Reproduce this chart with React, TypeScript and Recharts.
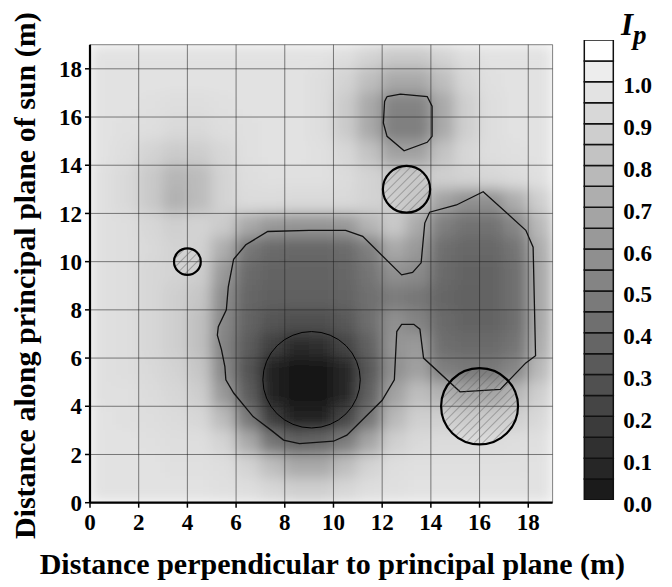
import React from 'react';
import { ScatterChart, Scatter, XAxis, YAxis, CartesianGrid, BarChart, Bar } from 'recharts';

// axis ticks
const xTicks = [0, 2, 4, 6, 8, 10, 12, 14, 16, 18];
const yTicks = [0, 2, 4, 6, 8, 10, 12, 14, 16, 18];

// centres of the 1 m cells of the Ip field
const cellX = [0.5, 1.5, 2.5, 3.5, 4.5, 5.5, 6.5, 7.5, 8.5, 9.5, 10.5, 11.5, 12.5, 13.5, 14.5, 15.5, 16.5, 17.5, 18.5];
const cellY = [18.5, 17.5, 16.5, 15.5, 14.5, 13.5, 12.5, 11.5, 10.5, 9.5, 8.5, 7.5, 6.5, 5.5, 4.5, 3.5, 2.5, 1.5, 0.5];

// Ip, one row per cellY, one column per cellX
const ipRows = [
  [0.97, 0.97, 0.97, 0.97, 0.97, 0.97, 0.97, 0.97, 0.97, 0.97, 0.95, 0.9, 0.85, 0.85, 0.9, 0.95, 0.97, 0.97, 0.97],
  [0.97, 0.97, 0.97, 0.97, 0.97, 0.97, 0.97, 0.97, 0.97, 0.95, 0.9, 0.8, 0.7, 0.7, 0.8, 0.92, 0.96, 0.97, 0.97],
  [0.97, 0.97, 0.96, 0.95, 0.95, 0.96, 0.97, 0.97, 0.97, 0.95, 0.86, 0.7, 0.52, 0.52, 0.7, 0.88, 0.95, 0.97, 0.97],
  [0.97, 0.96, 0.95, 0.93, 0.93, 0.95, 0.96, 0.97, 0.97, 0.95, 0.86, 0.7, 0.5, 0.5, 0.7, 0.88, 0.95, 0.97, 0.97],
  [0.97, 0.95, 0.9, 0.86, 0.87, 0.92, 0.96, 0.97, 0.97, 0.96, 0.92, 0.82, 0.66, 0.66, 0.82, 0.92, 0.95, 0.96, 0.97],
  [0.96, 0.93, 0.85, 0.76, 0.79, 0.9, 0.95, 0.96, 0.96, 0.96, 0.94, 0.9, 0.85, 0.85, 0.88, 0.9, 0.92, 0.94, 0.96],
  [0.96, 0.93, 0.85, 0.74, 0.79, 0.9, 0.94, 0.94, 0.93, 0.93, 0.93, 0.9, 0.87, 0.84, 0.66, 0.58, 0.58, 0.72, 0.88],
  [0.96, 0.95, 0.92, 0.88, 0.9, 0.86, 0.7, 0.62, 0.6, 0.6, 0.62, 0.75, 0.85, 0.7, 0.5, 0.44, 0.44, 0.54, 0.78],
  [0.96, 0.95, 0.93, 0.9, 0.89, 0.72, 0.46, 0.4, 0.39, 0.39, 0.41, 0.5, 0.7, 0.62, 0.42, 0.39, 0.39, 0.45, 0.72],
  [0.96, 0.95, 0.92, 0.9, 0.87, 0.62, 0.4, 0.37, 0.37, 0.37, 0.38, 0.45, 0.58, 0.55, 0.4, 0.37, 0.37, 0.43, 0.7],
  [0.96, 0.95, 0.92, 0.88, 0.84, 0.56, 0.38, 0.35, 0.35, 0.35, 0.37, 0.43, 0.48, 0.46, 0.38, 0.36, 0.37, 0.43, 0.7],
  [0.96, 0.95, 0.92, 0.88, 0.81, 0.54, 0.37, 0.3, 0.27, 0.27, 0.32, 0.42, 0.58, 0.52, 0.4, 0.37, 0.37, 0.42, 0.7],
  [0.96, 0.95, 0.92, 0.88, 0.81, 0.52, 0.33, 0.2, 0.1, 0.12, 0.22, 0.36, 0.6, 0.63, 0.42, 0.4, 0.4, 0.45, 0.72],
  [0.96, 0.95, 0.93, 0.9, 0.84, 0.54, 0.3, 0.05, 0.0, 0.0, 0.08, 0.32, 0.58, 0.66, 0.5, 0.47, 0.47, 0.54, 0.78],
  [0.96, 0.96, 0.94, 0.92, 0.87, 0.62, 0.34, 0.05, 0.0, 0.0, 0.08, 0.35, 0.66, 0.8, 0.74, 0.68, 0.68, 0.76, 0.88],
  [0.97, 0.96, 0.95, 0.94, 0.92, 0.78, 0.46, 0.18, 0.05, 0.06, 0.22, 0.45, 0.77, 0.88, 0.88, 0.86, 0.86, 0.88, 0.93],
  [0.97, 0.97, 0.96, 0.95, 0.95, 0.9, 0.7, 0.45, 0.36, 0.38, 0.48, 0.68, 0.88, 0.93, 0.94, 0.94, 0.94, 0.95, 0.96],
  [0.97, 0.97, 0.97, 0.96, 0.96, 0.95, 0.9, 0.8, 0.7, 0.7, 0.8, 0.9, 0.95, 0.96, 0.96, 0.96, 0.96, 0.96, 0.97],
  [0.97, 0.97, 0.97, 0.97, 0.97, 0.96, 0.95, 0.92, 0.88, 0.88, 0.92, 0.95, 0.96, 0.97, 0.97, 0.97, 0.97, 0.97, 0.97],
];

// contour lines (closed)
const contourMain = [
  { x: 5.9, y: 10.1 }, { x: 6.4, y: 10.7 }, { x: 7.3, y: 11.25 }, { x: 9.0, y: 11.3 }, { x: 10.5, y: 11.3 },
  { x: 11.2, y: 11.05 }, { x: 12.8, y: 9.45 }, { x: 13.25, y: 9.55 }, { x: 13.6, y: 9.95 }, { x: 13.75, y: 11.6 },
  { x: 13.95, y: 12.05 }, { x: 15.05, y: 12.35 }, { x: 16.15, y: 12.9 }, { x: 17.9, y: 11.3 }, { x: 18.2, y: 10.6 },
  { x: 18.3, y: 6.1 }, { x: 17.9, y: 5.8 }, { x: 16.85, y: 4.7 }, { x: 15.2, y: 4.6 }, { x: 13.7, y: 6.0 },
  { x: 13.55, y: 7.2 }, { x: 13.3, y: 7.4 }, { x: 12.8, y: 7.4 }, { x: 12.6, y: 7.1 }, { x: 12.5, y: 5.1 },
  { x: 12.0, y: 4.25 }, { x: 10.55, y: 2.8 }, { x: 10.0, y: 2.55 }, { x: 8.6, y: 2.45 }, { x: 7.95, y: 2.6 },
  { x: 7.45, y: 3.0 }, { x: 6.7, y: 3.57 }, { x: 5.9, y: 4.55 }, { x: 5.58, y: 5.1 }, { x: 5.54, y: 5.65 },
  { x: 5.4, y: 6.35 }, { x: 5.23, y: 6.95 }, { x: 5.27, y: 7.3 }, { x: 5.6, y: 8.0 }, { x: 5.68, y: 8.95 },
  { x: 5.9, y: 10.1 },
];
const contourUpper = [
  { x: 12.2, y: 16.85 }, { x: 12.75, y: 16.95 }, { x: 13.85, y: 16.85 }, { x: 14.05, y: 16.45 }, { x: 14.05, y: 15.2 },
  { x: 13.85, y: 14.95 }, { x: 12.9, y: 14.6 }, { x: 12.2, y: 15.2 }, { x: 12.05, y: 15.75 }, { x: 12.1, y: 16.65 },
  { x: 12.2, y: 16.85 },
];

// hatched circles: centre and radius in metres
const hatchedCircles = [
  { x: 4, y: 10, r: 0.55 },
  { x: 13, y: 13, r: 0.97 },
  { x: 16, y: 4, r: 1.58 },
];
const coreCircle = [{ x: 9.1, y: 5.1, r: 2.0 }];

// colour bar
const cbLevels = [0, 0.05, 0.1, 0.15, 0.2, 0.25, 0.3, 0.35, 0.4, 0.45, 0.5, 0.55, 0.6, 0.65, 0.7, 0.75, 0.8, 0.85, 0.9, 0.95, 1.0, 1.05];
const cbTop = 1.1;
const cbTicks = [0, 0.1, 0.2, 0.3, 0.4, 0.5, 0.6, 0.7, 0.8, 0.9, 1.0];

const SERIF = '"Liberation Serif", "Times New Roman", serif';

const CHART_W = 672;
const CHART_H = 587;
const M = { top: 44.7, right: 119.4, bottom: 0, left: 0 };
const Y_AXIS_W = 90;
const X_AXIS_H = 84.3;
const PLOT_W = CHART_W - M.left - M.right - Y_AXIS_W;
const PLOT_H = CHART_H - M.top - M.bottom - X_AXIS_H;
const UX = PLOT_W / 19;
const UY = PLOT_H / 19;

const grayOf = (v: number) => {
  if (v >= 1.05) return '#ffffff';
  const g = Math.round(22 + Math.max(0, v) * 210);
  return `rgb(${g},${g},${g})`;
};

const fieldCells = cellY.flatMap((y, r) => cellX.map((x, c) => ({ x, y, v: ipRows[r][c] })));

const cbRow: Record<string, any> = { name: 'Ip' };
cbLevels.forEach((lv, i) => {
  cbRow[`b${i}`] = (i < cbLevels.length - 1 ? cbLevels[i + 1] : cbTop) - lv;
});

const NoDot = () => <g />;

const FieldCell = (p: any) => {
  const v = p.payload?.v ?? p.v;
  const w = UX + 1;
  const h = UY + 1;
  return <rect x={p.cx - w / 2} y={p.cy - h / 2} width={w} height={h} fill={grayOf(v)} />;
};

const HatchCircle = (p: any) => {
  const r = p.payload?.r ?? p.r;
  return <ellipse cx={p.cx} cy={p.cy} rx={r * UX} ry={r * UY} fill="url(#ipHatch)" stroke="#000" strokeWidth={2.2} />;
};

const CoreCircle = (p: any) => {
  const r = p.payload?.r ?? p.r;
  return <ellipse cx={p.cx} cy={p.cy} rx={r * UX} ry={r * UY} fill="none" stroke="#000" strokeWidth={1} />;
};

const XTitle = ({ viewBox }: any) => (
  <text
    x={viewBox.x + viewBox.width / 2 + 11}
    y={viewBox.y + viewBox.height - 13}
    textAnchor="middle"
    fontFamily={SERIF}
    fontWeight="bold"
    fontSize={30}
    fill="#000"
  >
    Distance perpendicular to principal plane (m)
  </text>
);

const YTitle = ({ viewBox }: any) => {
  const cx = viewBox.x + 25;
  const cy = viewBox.y + viewBox.height / 2 + 2;
  return (
    <text
      x={cx}
      y={cy}
      dy="0.35em"
      transform={`rotate(-90 ${cx} ${cy})`}
      textAnchor="middle"
      fontFamily={SERIF}
      fontWeight="bold"
      fontSize={30}
      fill="#000"
    >
      Distance along principal plane of sun (m)
    </text>
  );
};

const CbTick = ({ x, y, payload }: any) => (
  <text x={x + 10} y={y} dy={11.5} fontFamily={SERIF} fontWeight="bold" fontSize={23} fill="#000">
    {Number(payload.value).toFixed(1)}
  </text>
);

const tickStyle = { fontFamily: SERIF, fontWeight: 'bold', fontSize: 23, fill: '#000' };

export default function App() {
  return (
    <div style={{ position: 'absolute', left: 0, top: 0, width: 672, height: 587, background: '#fff' }}>
      <style>{'.ip-field { filter: url(#ipBlur); }'}</style>
      <div style={{ position: 'absolute', left: 0, top: 0 }}>
        <ScatterChart width={CHART_W} height={CHART_H} margin={M}>
          <defs>
            <filter id="ipBlur" x="-5%" y="-5%" width="110%" height="110%">
              <feGaussianBlur in="SourceGraphic" stdDeviation="7" result="b" />
              <feComposite in="b" in2="SourceAlpha" operator="in" />
            </filter>
            <pattern id="ipHatch" patternUnits="userSpaceOnUse" width="6" height="6" patternTransform="rotate(45)">
              <line x1="0" y1="0" x2="0" y2="6" stroke="#555" strokeWidth="0.8" />
            </pattern>
          </defs>
          <XAxis
            type="number"
            dataKey="x"
            domain={[0, 19]}
            ticks={xTicks}
            interval={0}
            allowDataOverflow
            height={X_AXIS_H}
            tickSize={5}
            tickMargin={6}
            axisLine={{ stroke: '#000', strokeWidth: 2.2 }}
            tickLine={{ stroke: '#000', strokeWidth: 1.5 }}
            tick={tickStyle}
            label={{ content: XTitle }}
          />
          <XAxis
            xAxisId="top"
            orientation="top"
            type="number"
            dataKey="x"
            domain={[0, 19]}
            ticks={xTicks}
            interval={0}
            allowDataOverflow
            height={0}
            tickSize={5}
            tickFormatter={() => ''}
            axisLine={{ stroke: '#000', strokeWidth: 2.2 }}
            tickLine={{ stroke: '#000', strokeWidth: 1.5 }}
          />
          <YAxis
            type="number"
            dataKey="y"
            domain={[0, 19]}
            ticks={yTicks}
            interval={0}
            allowDataOverflow
            width={Y_AXIS_W}
            tickSize={5}
            tickMargin={3}
            axisLine={{ stroke: '#000', strokeWidth: 2.2 }}
            tickLine={{ stroke: '#000', strokeWidth: 1.5 }}
            tick={tickStyle}
            label={{ content: YTitle }}
          />
          <YAxis
            yAxisId="right"
            orientation="right"
            type="number"
            dataKey="y"
            domain={[0, 19]}
            ticks={yTicks}
            interval={0}
            allowDataOverflow
            width={0}
            tickSize={5}
            tickFormatter={() => ''}
            axisLine={{ stroke: '#000', strokeWidth: 2.2 }}
            tickLine={{ stroke: '#000', strokeWidth: 1.5 }}
          />
          <Scatter data={fieldCells} shape={FieldCell} className="ip-field" isAnimationActive={false} zIndex={450} />
          <CartesianGrid stroke="#222" strokeWidth={0.7} strokeOpacity={0.8} zIndex={460} />
          <Scatter
            xAxisId="top"
            yAxisId="right"
            data={contourMain}
            line={{ stroke: '#111', strokeWidth: 1.3, fill: 'none' }}
            lineType="joint"
            shape={NoDot}
            isAnimationActive={false}
            zIndex={700}
          />
          <Scatter
            xAxisId="top"
            yAxisId="right"
            data={contourUpper}
            line={{ stroke: '#111', strokeWidth: 1.3, fill: 'none' }}
            lineType="joint"
            shape={NoDot}
            isAnimationActive={false}
            zIndex={700}
          />
          <Scatter data={coreCircle} shape={CoreCircle} isAnimationActive={false} zIndex={700} />
          <Scatter data={hatchedCircles} shape={HatchCircle} isAnimationActive={false} zIndex={700} />
        </ScatterChart>
      </div>
      <div style={{ position: 'absolute', left: 570, top: 0 }}>
        <BarChart width={102} height={587} data={[cbRow]} margin={{ top: 40, right: 0, bottom: 87, left: 14.3 }} barCategoryGap={0} barGap={0}>
          <XAxis dataKey="name" hide />
          <YAxis
            orientation="right"
            type="number"
            domain={[0, cbTop]}
            ticks={cbTicks}
            interval={0}
            allowDataOverflow
            axisLine={false}
            tickLine={false}
            tickSize={0}
            tickMargin={0}
            width={58.7}
            tick={CbTick}
          />
          {cbLevels.map((lv, i) => (
            <Bar
              key={i}
              dataKey={`b${i}`}
              stackId="cb"
              fill={grayOf(lv + 0.025)}
              stroke="#111"
              strokeWidth={1.5}
              isAnimationActive={false}
            />
          ))}
        </BarChart>
      </div>
      <div
        style={{
          position: 'absolute',
          left: 621,
          top: 5,
          fontFamily: SERIF,
          fontStyle: 'italic',
          fontWeight: 'bold',
          fontSize: 31,
          lineHeight: '40px',
          color: '#000',
        }}
      >
        I<span style={{ fontSize: 27, position: 'relative', top: 9 }}>p</span>
      </div>
    </div>
  );
}
